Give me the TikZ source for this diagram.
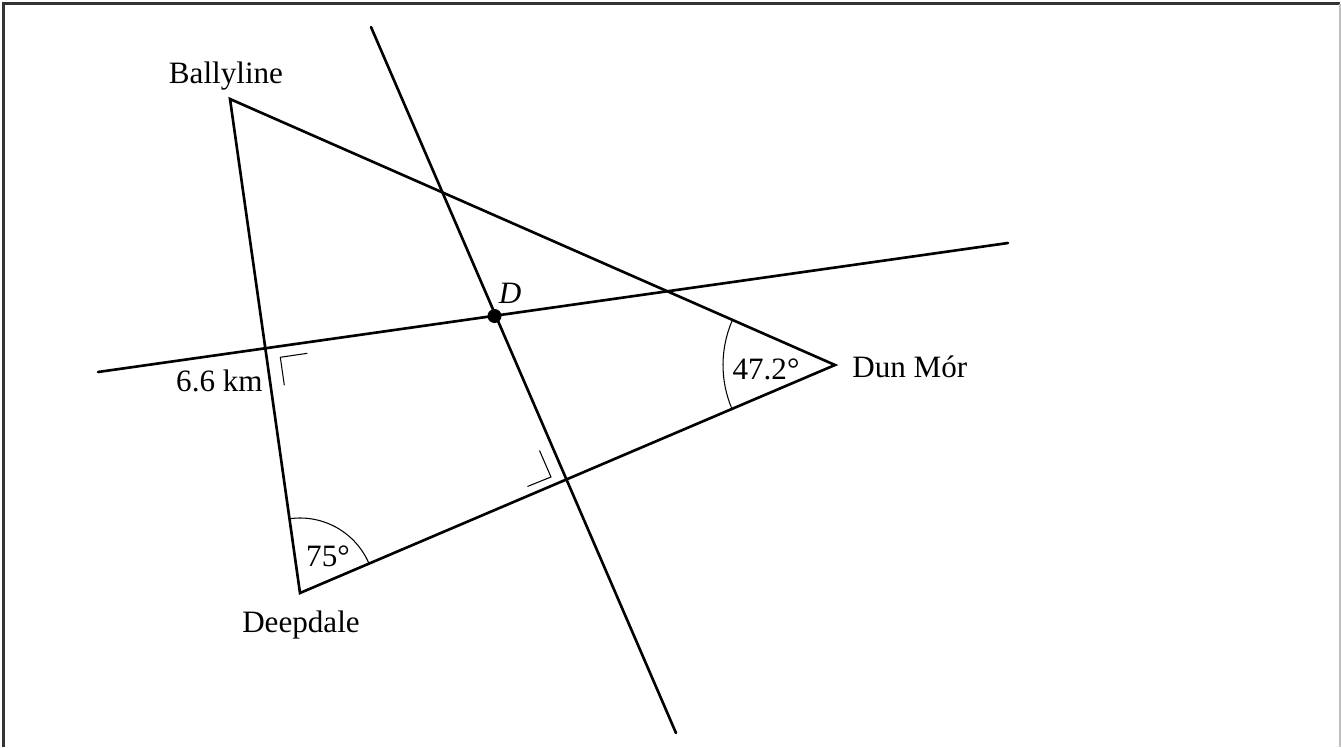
\documentclass[tikz,border=0pt]{standalone}
\usepackage{fontspec}
\setmainfont{Liberation Serif}
\usepackage{tikz}
\usetikzlibrary{calc,angles}

\begin{document}
\begin{tikzpicture}[
      x=0.2mm, y=-0.2mm, % coordenadas em pixels da figura
      every node/.style={font=\fontsize{17.7}{20}\selectfont, inner sep=0pt},
      side/.style={line width=1.5pt, line cap=round},
      marca/.style={line width=0.6pt},
      frame/.style={line width=1.4pt, black!80},
  ]

      % --- MOLDURA ---
      \useasboundingbox (0,0) rectangle (1341,747);
      \draw[frame] (3.5,747) -- (3.5,3.5) -- (1339.5,3.5);
      \draw[line width=0.6pt, black!25] (1340,3.5) -- (1340,747);

      % --- VERTICES ---
      \coordinate (ball) at (230,99);
      \coordinate (deep) at (300,593);
      \coordinate (dun) at (835,365);
      \coordinate (dd) at (494.5,316);

      % extremos das retas
      \coordinate (r1a) at (371,27);
      \coordinate (r1b) at (676,733);
      \coordinate (r2a) at (98,372);
      \coordinate (r2b) at (1008,243);

      \coordinate (i1) at (intersection of ball--deep and r2a--r2b);
      \coordinate (i2) at (intersection of r1a--r1b and deep--dun);

      % --- TRIANGULO E RETAS ---
      \draw[side, line join=miter] (ball) -- (deep) -- (dun) -- cycle;
      \draw[side] (r1a) -- (r1b);
      \draw[side] (r2a) -- (r2b);
      \fill (dd) circle[radius=7];

      % angulos retos
      \draw[marca] ($(i1)+(42,5)$) -- ($(i1)+(15,9)$) -- ($(i1)+(19,37)$);
      \draw[marca] ($(i2)+(-27,-29)$) -- ($(i2)+(-15.5,-2.5)$) -- ($(i2)+(-39,7)$);

      % arcos
      \pic[draw, marca, angle radius=15mm] {angle = dun--deep--ball};
      \pic[draw, marca, angle radius=22.4mm] {angle = ball--dun--deep};

      % --- ROTULOS ---
      \node[anchor=base] (lball) at (226,83) {Ballyline};
      \node[anchor=base] (ldeep) at (301,632) {Deepdale};
      \node[anchor=base west] (ldun) at (852,377) {Dun Mór};
      \node[anchor=base east] (ldist) at (263,391) {6.6 km};
      \node[anchor=base] (ld) at (510,303) {\textit{D}};
      \node[anchor=base] (a75) at (328,566) {75°};
      \node[anchor=base] (a47) at (766,379) {47.2°};

  \end{tikzpicture}
\end{document}
